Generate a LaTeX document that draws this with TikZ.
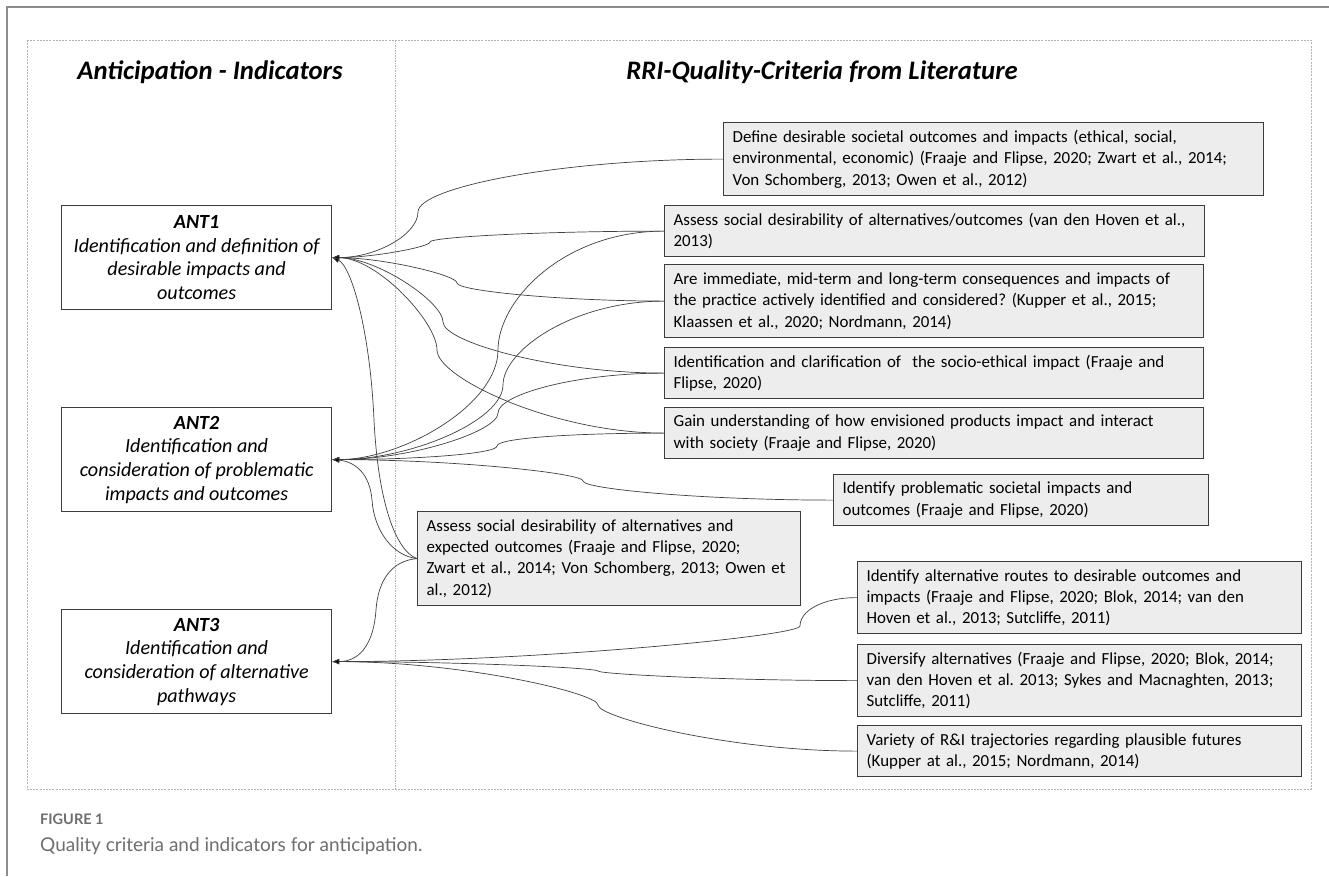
\documentclass[tikz,border=0pt]{standalone}
\usepackage{fontspec}
\setmainfont{Carlito}
\newfontfamily\capfont{Lato}
\usetikzlibrary{arrows.meta}
\frenchspacing
\definecolor{boxfill}{HTML}{EDEDED}
\definecolor{boxline}{HTML}{3C3C3C}
\definecolor{conncol}{HTML}{404040}
\definecolor{framecol}{HTML}{8C8C8C}
\definecolor{dashcol}{HTML}{B4B4B4}
\definecolor{capcol}{HTML}{6E6E6E}
\begin{document}
\begin{tikzpicture}[x=1pt,y=-1pt,
  rbox/.style={draw=boxline, fill=boxfill, line width=1.2pt, anchor=north west,
    inner xsep=9pt, inner ysep=2pt, align=left, font=\fontsize{16.9}{21.2}\selectfont},
  abox/.style={draw=boxline, fill=white, line width=1.2pt, anchor=north west,
    minimum width=270pt, minimum height=104pt, inner sep=2pt, align=center,
    font=\fontsize{20.1}{23.7}\selectfont\itshape},
  conn/.style={draw=conncol, line width=0.7pt, -{Latex[length=7pt,width=5.5pt,fill=black]}},
  ttl/.style={anchor=base, font=\fontsize{26.7}{32}\selectfont\bfseries\itshape}]
\fill[white] (0,0) rectangle (1329,876);
\useasboundingbox (0,0) rectangle (1329,876);
% frames
\draw[framecol, line width=2pt] (7,876) -- (7,7) -- (1329,7);
\draw[dashcol, line width=0.8pt, dash pattern=on 2pt off 1.2pt] (27,40) rectangle (1311,789);
\draw[dashcol, line width=1.4pt, dash pattern=on 1.5pt off 1pt] (395.5,40) -- (395.5,789);
% titles
\node[ttl] (t1) at (210,79) {Anticipation - Indicators};
\node[ttl] (t2) at (822,79) {RRI-Quality-Criteria from Literature};
% indicator boxes
\node[abox] (a1) at (61,205) {\textbf{ANT1}\\Identification and definition of\\desirable impacts and\\outcomes};
\node[abox] (a2) at (61,407) {\textbf{ANT2}\\Identification and\\consideration of problematic\\impacts and outcomes};
\node[abox] (a3) at (61,609) {\textbf{ANT3}\\Identification and\\consideration of alternative\\pathways};
% criteria boxes
\node[rbox, text width=522pt, minimum height=73pt] (b1) at (723,122) {\mbox{Define desirable societal outcomes and impacts (ethical, social,}\\\mbox{environmental, economic) (Fraaje and Flipse, 2020; Zwart et al., 2014;}\\\mbox{Von Schomberg, 2013; Owen et al., 2012)}};
\node[rbox, text width=522pt, minimum height=51pt] (b2) at (664,205) {\mbox{Assess social desirability of alternatives/outcomes (van den Hoven et al.,}\\\mbox{2013)}};
\node[rbox, text width=521pt, minimum height=73pt] (b3) at (664,264) {\mbox{Are immediate, mid-term and long-term consequences and impacts of}\\\mbox{the practice actively identified and considered? (Kupper et al., 2015;}\\\mbox{Klaassen et al., 2020; Nordmann, 2014)}};
\node[rbox, text width=521pt, minimum height=51pt] (b4) at (664,347) {\mbox{Identification and clarification of\ \ the socio-ethical impact (Fraaje and}\\\mbox{Flipse, 2020)}};
\node[rbox, text width=521pt, minimum height=51pt] (b5) at (664,407) {\mbox{Gain understanding of how envisioned products impact and interact}\\\mbox{with society (Fraaje and Flipse, 2020)}};
\node[rbox, text width=357pt, minimum height=51pt] (b6) at (833,474) {\mbox{Identify problematic societal impacts and}\\\mbox{outcomes (Fraaje and Flipse, 2020)}};
\node[rbox, text width=365pt, minimum height=94pt] (b7) at (417,511) {\mbox{Assess social desirability of alternatives and}\\\mbox{expected outcomes (Fraaje and Flipse, 2020;}\\\mbox{Zwart et al., 2014; Von Schomberg, 2013; Owen et}\\\mbox{al., 2012)}};
\node[rbox, text width=426pt, minimum height=72pt] (b8) at (857,561) {\mbox{Identify alternative routes to desirable outcomes and}\\\mbox{impacts (Fraaje and Flipse, 2020; Blok, 2014; van den}\\\mbox{Hoven et al., 2013; Sutcliffe, 2011)}};
\node[rbox, text width=426pt, minimum height=72pt] (b9) at (857,644) {\mbox{Diversify alternatives (Fraaje and Flipse, 2020; Blok, 2014;}\\\mbox{van den Hoven et al. 2013; Sykes and Macnaghten, 2013;}\\\mbox{Sutcliffe, 2011)}};
\node[rbox, text width=426pt, minimum height=51pt] (b10) at (857,725) {\mbox{Variety of R\&I trajectories regarding plausible futures}\\\mbox{(Kupper at al., 2015; Nordmann, 2014)}};
% connectors to ANT1
\draw[conn] (b1.west) .. controls +(-160,0) and +(0,-25) .. (418,212) .. controls +(0,22) and +(45,0) .. (a1.east);
\draw[conn] (b2.west) .. controls +(-120,0) and +(0,-5) .. (430,242) .. controls +(0,5) and +(40,0) .. (a1.east);
\draw[conn] (b3.west) .. controls +(-100,0) and +(0,8) .. (457,283) .. controls +(0,-8) and +(50,0) .. (a1.east);
\draw[conn] (b4.west) .. controls +(-110,0) and +(0,20) .. (443,322) .. controls +(0,-20) and +(45,0) .. (a1.east);
\draw[conn] (b5.west) .. controls +(-110,0) and +(0,28) .. (437,350) .. controls +(0,-28) and +(45,0) .. (a1.east);
\draw[conn] (b7.west) .. controls +(-22,-8) and +(4,80) .. (374,420) .. controls +(-4,-90) and +(19,8) .. (a1.east);
% connectors to ANT2
\draw[conn] (b2.west) .. controls +(-100,0) and +(0,-50) .. (498,350) .. controls +(0,55) and +(70,0) .. (a2.east);
\draw[conn] (b3.west) .. controls +(-90,0) and +(0,-35) .. (503,385) .. controls +(0,35) and +(80,0) .. (a2.east);
\draw[conn] (b4.west) .. controls +(-90,0) and +(0,-18) .. (498,413) .. controls +(0,18) and +(80,0) .. (a2.east);
\draw[conn] (b5.west) .. controls +(-90,0) and +(0,-8) .. (497,446) .. controls +(0,8) and +(80,0) .. (a2.east);
\draw[conn] (b6.west) .. controls +(-130,0) and +(0,8) .. (583,481) .. controls +(0,-8) and +(120,0) .. (a2.east);
\draw[conn] (b7.west) .. controls +(-25,-3) and +(2,30) .. (372,500) .. controls +(-2,-25) and +(24,2) .. (a2.east);
% connectors to ANT3
\draw[conn] (b7.west) .. controls +(-25,2) and +(2,-30) .. (376,610) .. controls +(-2,30) and +(30,0) .. (a3.east);
\draw[conn] (b8.west) .. controls +(-35,0) and +(0,-15) .. (800,626) .. controls +(0,10) and +(200,0) .. (a3.east);
\draw[conn] (b9.west) .. controls +(-130,0) and +(0,3) .. (598,671) .. controls +(0,-3) and +(130,0) .. (a3.east);
\draw[conn] (b10.west) .. controls +(-130,0) and +(0,12) .. (598,705) .. controls +(0,-12) and +(130,0) .. (a3.east);
% caption
\node[anchor=base west, font=\capfont\bfseries\fontsize{14.5}{18}\selectfont, text=capcol, inner sep=0pt] (fig) at (40,824) {FIGURE 1};
\node[anchor=base west, font=\capfont\fontsize{19}{22}\selectfont, text=capcol, inner sep=0pt] (cap) at (40,851) {Quality criteria and indicators for anticipation.};
\end{tikzpicture}
\end{document}
